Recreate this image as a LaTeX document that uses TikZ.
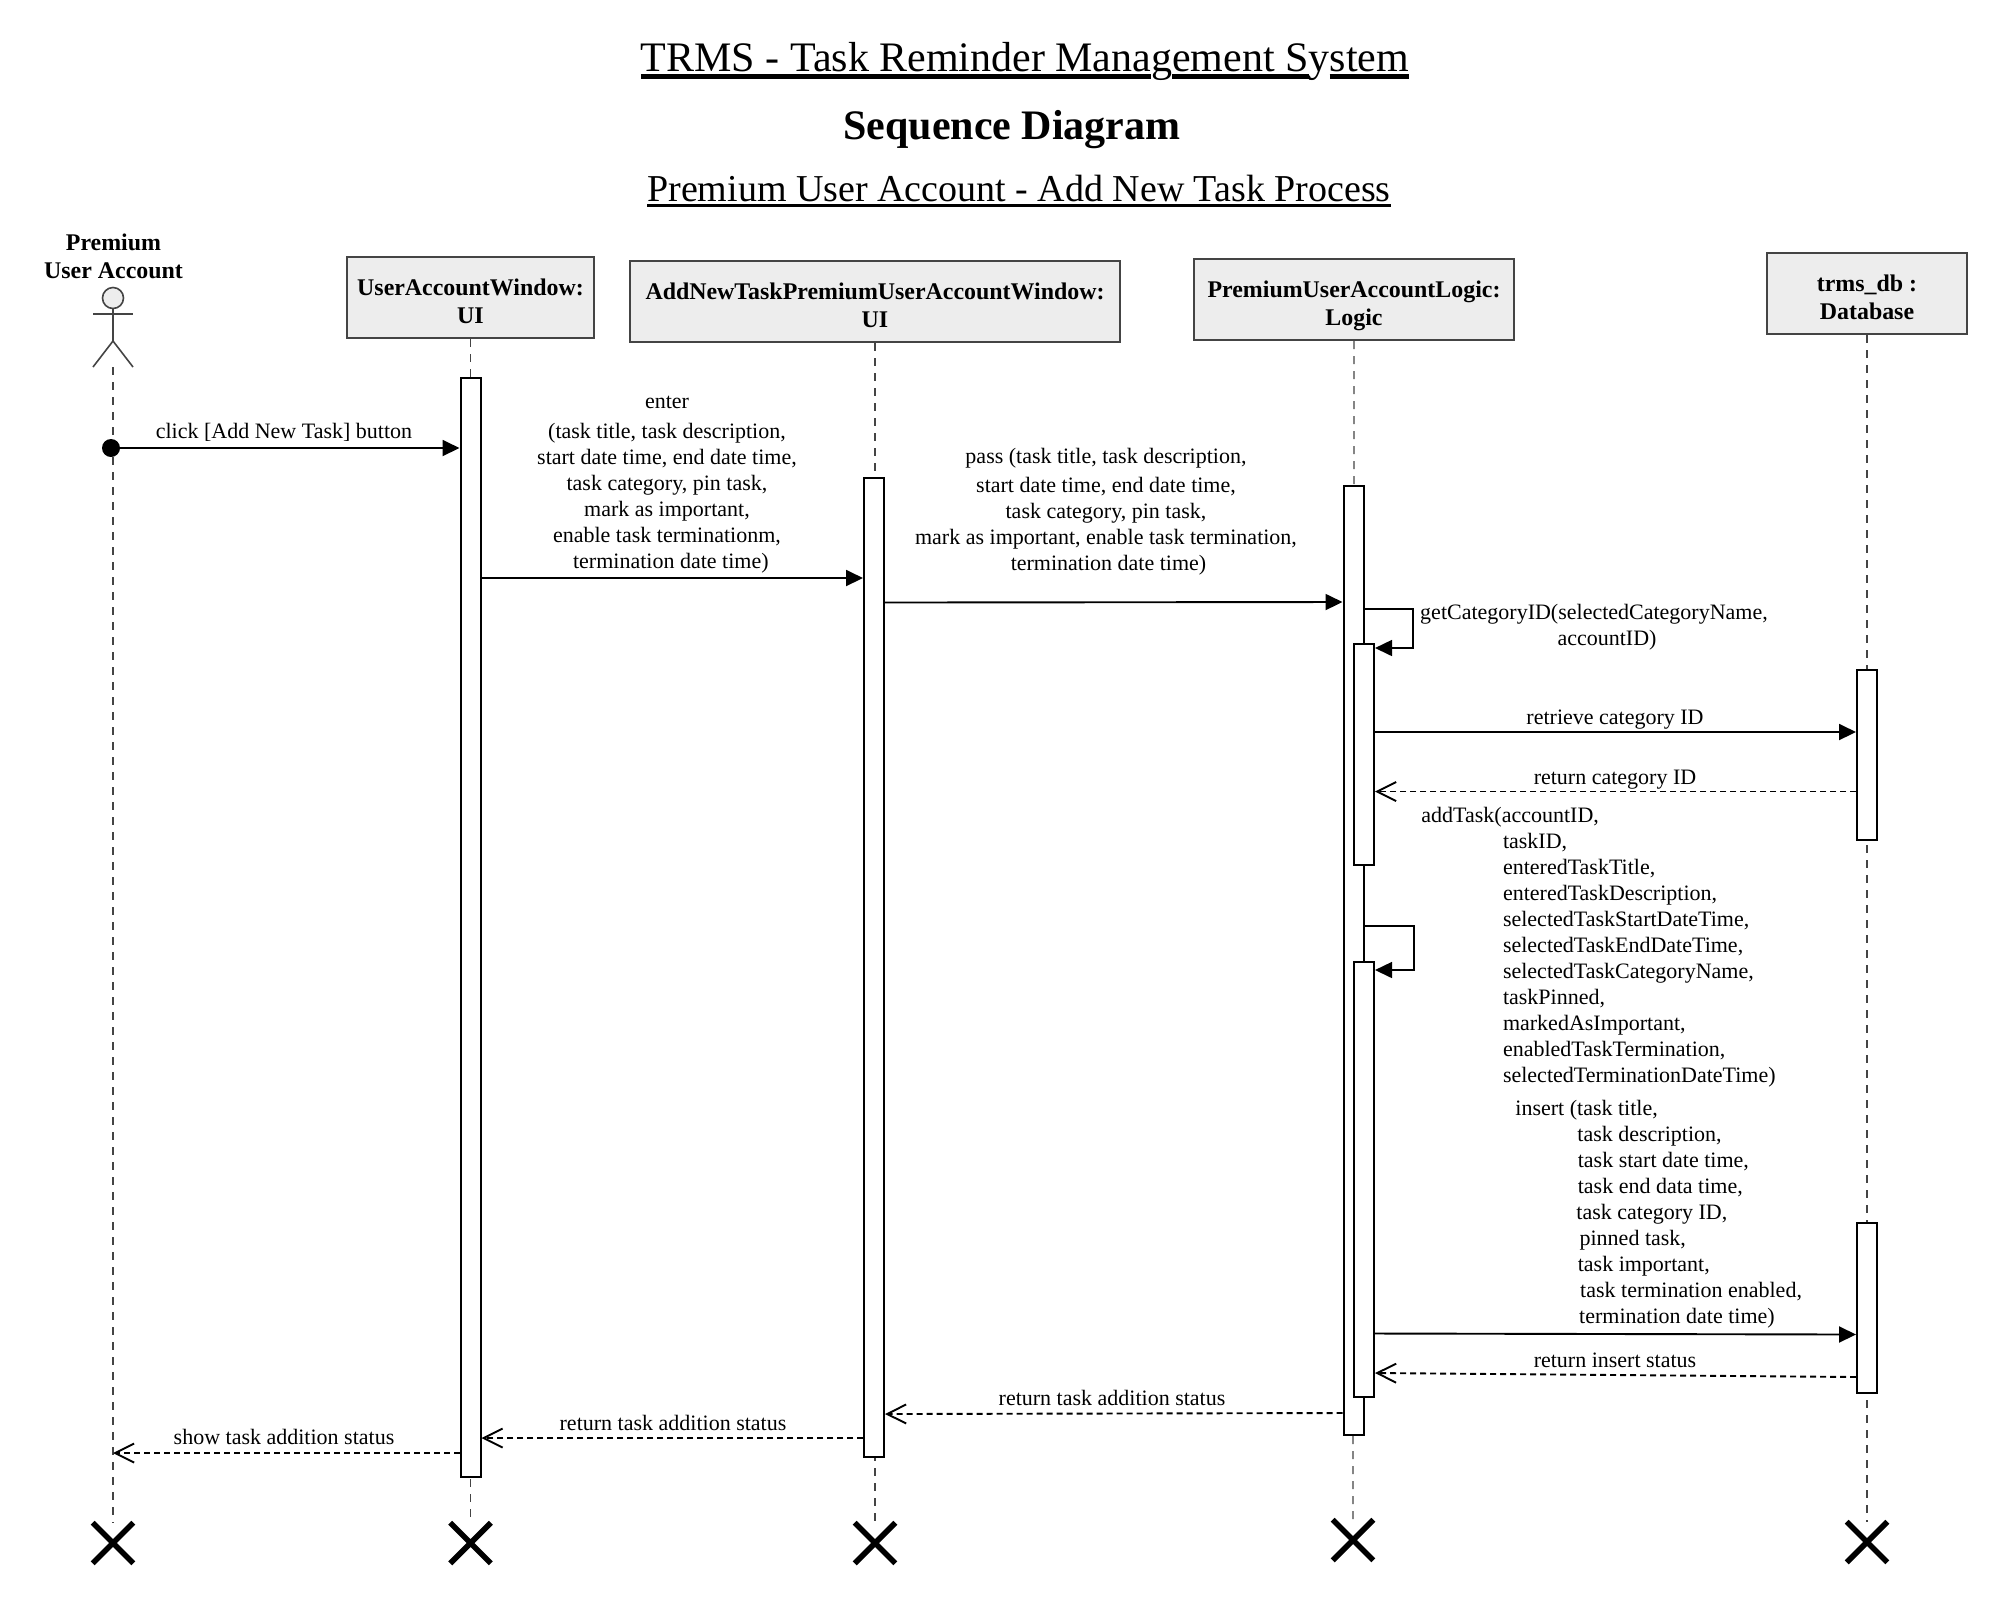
\documentclass[tikz,border=0pt]{standalone}
\usepackage{fontspec}
\setmainfont{Liberation Serif}
\usetikzlibrary{arrows.meta,shapes.misc}
\definecolor{boxfill}{HTML}{EDEDED}
\definecolor{boxline}{HTML}{444444}
\newsavebox{\titlebox}
\newcommand{\titleline}[3]{\sbox{\titlebox}{#3}\usebox{\titlebox}\llap{\rule[#1]{\wd\titlebox}{#2}}}
\tikzset{
    lifebox/.style={draw=boxline, fill=boxfill, line width=1.2pt, align=center, inner sep=0pt, text height=26.1pt,
        font=\fontsize{11.95}{13.9}\selectfont\bfseries},
    actbar/.style={draw=black, fill=white, line width=1pt, inner sep=0pt, minimum width=10pt},
    lifeline/.style={draw=boxline, line width=0.6pt, dash pattern=on 4pt off 3.5pt},
    endmark/.style={cross out, draw=black, line width=2.8pt, inner sep=0pt, minimum size=17.5pt},
    msg/.style={line width=0.95pt, -{Triangle[length=8.5pt,width=8pt]}},
    retmsg/.style={line width=0.95pt, dash pattern=on 3pt off 2pt, -{Straight Barb[length=9.5pt,width=9.5pt]}},
    msglabel/.style={font=\fontsize{11}{13}\selectfont, inner sep=0pt, align=center},
    titletext/.style={font=\fontsize{21}{25}\selectfont, inner sep=0pt}
}
\begin{document}
\begin{tikzpicture}[x=0.5pt, y=-0.5pt]
    \useasboundingbox (0, 0) rectangle (2000, 1603);

    % titles
    \node[titletext] (title) at (1025, 61) {\titleline{-4.1pt}{2.4pt}{TRMS - Task Reminder Mana}g\titleline{-4.1pt}{2.4pt}{ement S}y\titleline{-4.1pt}{2.4pt}{stem}};
    \node[titletext, font=\fontsize{21}{25}\selectfont\bfseries] (subtitle) at (1012, 130) {Sequence Diagram};
    \node[titletext, font=\fontsize{19}{23}\selectfont] (process) at (1019, 191) {\titleline{-2.6pt}{1.4pt}{Premium User Account - Add New Task Process}};

    % actor
    \node[msglabel, font=\fontsize{11.95}{13.9}\selectfont\bfseries] (actorname) at (113.5, 256) {Premium\\User Account};
    \node[circle, draw=boxline, fill=boxfill, line width=0.8pt, inner sep=0pt, minimum size=10.5pt] (actorhead) at (113, 298) {};
    \coordinate (actorhip) at (113, 341);
    \coordinate (actorfoot) at (113, 367);
    \draw[draw=boxline, line width=0.8pt] (actorhead) -- (actorhip);
    \draw[draw=boxline, line width=0.8pt] (93, 314) -- (133, 314);
    \draw[draw=boxline, line width=0.8pt] (93, 367) -- (actorhip) -- (133, 367);

    % lifeline heads
    \node[lifebox, minimum width=123.5pt, minimum height=40.5pt] (boxwindow) at (470.5, 297.5) {UserAccountWindow:\\UI};
    \node[lifebox, minimum width=245pt, minimum height=40.5pt] (boxaddnew) at (875, 301.5) {AddNewTaskPremiumUserAccountWindow:\\UI};
    \node[lifebox, minimum width=160pt, minimum height=40.5pt, text height=28.6pt] (boxlogic) at (1354, 299.5) {PremiumUserAccountLogic:\\Logic};
    \node[lifebox, minimum width=100pt, minimum height=40.5pt] (boxdb) at (1867, 293.5) {trms\_db :\\Database};

    % end marks
    \node[endmark] (endactor) at (113, 1543) {};
    \node[endmark] (endwindow) at (470.5, 1543) {};
    \node[endmark] (endaddnew) at (875, 1543) {};
    \node[endmark] (endlogic) at (1353, 1540) {};
    \node[endmark] (enddb) at (1867, 1542) {};

    \draw[lifeline] (actorfoot) -- (endactor.north);
    \draw[lifeline] (boxwindow.south) -- (endwindow.north);
    \draw[lifeline] (boxaddnew.south) -- (endaddnew.north);
    \draw[lifeline] (boxlogic.south) -- (endlogic.north);
    \draw[lifeline] (boxdb.south) -- (enddb.north);

    % activation bars
    \node[actbar, minimum height=549.5pt] (barwindow) at (470.5, 927.8) {};
    \node[actbar, minimum height=489.5pt] (baraddnew) at (874, 967.8) {};
    \node[actbar, minimum height=474.5pt] (barlogic) at (1353.5, 960.5) {};
    \node[actbar, minimum height=110.5pt] (barcategory) at (1364, 754.5) {};
    \node[actbar, minimum height=217.5pt] (barinsert) at (1364, 1179) {};
    \node[actbar, minimum height=85pt] (bardbcat) at (1867, 755) {};
    \node[actbar, minimum height=85pt] (bardbins) at (1867, 1308) {};

    % messages
    \node[circle, fill=black, inner sep=0pt, minimum size=9pt] (startdot) at (111, 448) {};
    \draw[msg] (startdot.center) -- (barwindow.west |- startdot);
    \node[msglabel] (clicklabel) at (284, 432) {click [Add New Task] button};

    \draw[msg] (barwindow.east |- 0, 578) -- (baraddnew.west |- 0, 578);
    \node[msglabel] (enterlabel) at (667, 485) {enter\\[2pt](task title, task description,\\start date time, end date time,\\task category, pin task,\\mark as important,\\enable task terminationm,\\\hspace*{3.8pt}termination date time)};

    \draw[msg] (baraddnew.east |- 0, 602.5) -- (barlogic.west |- 0, 602);
    \node[msglabel] (passlabel) at (1106, 511.5) {pass (task title, task description,\\[1.8pt]start date time, end date time,\\task category, pin task,\\mark as important, enable task termination,\\\hspace*{2.5pt}termination date time)};

    \draw[msg, line width=0.8pt] (barlogic.east |- 0, 609) -| (1413, 648) -- (barcategory.east |- 0, 648);
    \node[msglabel] (getlabel) at (1594, 627.5) {getCategoryID(selectedCategoryName,\\\hspace*{13pt}accountID)};

    \draw[msg] (barcategory.east |- 0, 732) -- (bardbcat.west |- 0, 732);
    \node[msglabel] (retrievelabel) at (1615, 719.5) {retrieve category ID};

    \draw[retmsg] (bardbcat.west |- 0, 791.5) -- (barcategory.east |- 0, 791.5);
    \node[msglabel] (returnlabel) at (1615, 779.5) {return category ID};

    \draw[msg, line width=0.8pt] (barlogic.east |- 0, 926) -| (1414, 970) -- (barinsert.east |- 0, 970);
    \node[msglabel, align=left, anchor=west] (addlabel) at (1421, 947) {addTask(accountID,\\
        \hspace*{40.8pt}taskID,\\
        \hspace*{40.8pt}enteredTaskTitle,\\
        \hspace*{40.8pt}enteredTaskDescription,\\
        \hspace*{40.8pt}selectedTaskStartDateTime,\\
        \hspace*{40.8pt}selectedTaskEndDateTime,\\
        \hspace*{40.8pt}selectedTaskCategoryName,\\
        \hspace*{40.8pt}taskPinned,\\
        \hspace*{40.8pt}markedAsImportant,\\
        \hspace*{40.8pt}enabledTaskTermination,\\
        \hspace*{40.8pt}selectedTerminationDateTime)};

    \draw[msg] (barinsert.east |- 0, 1333.5) -- (bardbins.west |- 0, 1334.5);
    \node[msglabel, align=left, anchor=west] (insertlabel) at (1515, 1214.5) {insert (task title,\\
        \hspace*{31pt}task description,\\
        \hspace*{31.2pt}task start date time,\\
        \hspace*{31.2pt}task end data time,\\
        \hspace*{30.5pt}task category ID,\\
        \hspace*{32.1pt}pinned task,\\
        \hspace*{31.2pt}task important,\\
        \hspace*{32.4pt}task termination enabled,\\
        \hspace*{31.9pt}termination date time)};

    \draw[retmsg] (bardbins.west |- 0, 1377) -- (barinsert.east |- 0, 1373);
    \node[msglabel] (statuslabel) at (1615, 1360) {return insert status};

    \draw[retmsg] (barlogic.west |- 0, 1413) -- (baraddnew.east |- 0, 1414);
    \node[msglabel] (addedlabel) at (1112, 1398) {return task addition status};

    \draw[retmsg] (baraddnew.west |- 0, 1438) -- (barwindow.east |- 0, 1438);
    \node[msglabel] (addedlabelb) at (673, 1422.5) {return task addition status};

    \draw[retmsg] (barwindow.west |- 0, 1453) -- (endactor.center |- 0, 1453);
    \node[msglabel] (showlabel) at (284, 1437) {show task addition status};
\end{tikzpicture}
\end{document}
